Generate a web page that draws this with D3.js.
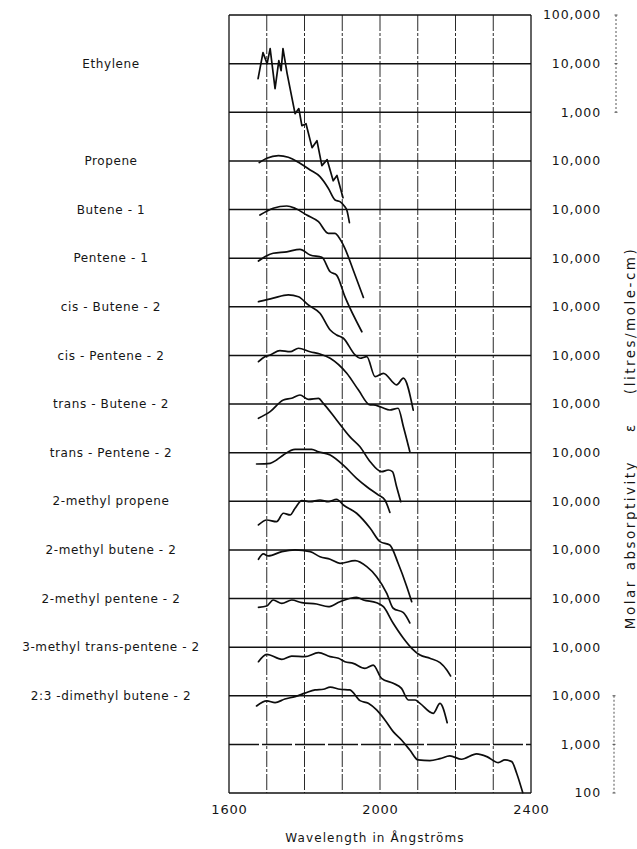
<!DOCTYPE html>
<html>
<head>
<meta charset="utf-8">
<script src="https://cdn.jsdelivr.net/npm/d3@7"></script>
<style>
  html, body { margin: 0; padding: 0; background: #fff; }
  svg { display: block; }
  text { font-family: "DejaVu Sans", sans-serif; fill: #151515; }
</style>
</head>
<body>
<svg id="chart" width="637" height="849"></svg>
<script>
// Compound names, top to bottom
const names = [
  "Ethylene", "Propene", "Butene - 1", "Pentene - 1",
  "cis - Butene - 2", "cis - Pentene - 2", "trans - Butene - 2", "trans - Pentene - 2",
  "2-methyl propene", "2-methyl butene - 2", "2-methyl pentene - 2",
  "3-methyl trans-pentene - 2", "2:3 -dimethyl butene - 2"
];

// Wavelength axis (Ångströms)
const wavelengthTicks = [1600, 2000, 2400];
const gridWavelengths = [1600, 1700, 1800, 1900, 2000, 2100, 2200, 2300, 2400];

// Absorptivity labels for each horizontal rule, top to bottom
const scaleLabels = [
  "100,000", "10,000", "1,000",
  "10,000", "10,000", "10,000", "10,000", "10,000", "10,000",
  "10,000", "10,000", "10,000", "10,000", "10,000", "10,000",
  "1,000", "100"
];

// Spectra: [wavelength Å, molar absorptivity ε]
const ethylene = [
  [1677, 4900], [1690, 16800], [1701, 10000], [1709, 20400], [1722, 3060],
  [1732, 11500], [1738, 7180], [1743, 20400], [1754, 6230], [1775, 935],
  [1785, 1190], [1793, 530], [1804, 582], [1820, 187], [1833, 260],
  [1846, 80], [1860, 106], [1876, 39], [1886, 50], [1902, 17.5]
];
const propene = [
  [1680, 9190], [1700, 11300], [1731, 12800], [1757, 11900], [1788, 8930],
  [1815, 6500], [1841, 4730], [1863, 2740], [1881, 1570], [1894, 1450],
  [1907, 1140], [1912, 977], [1919, 536]
];
const butene1 = [
  [1682, 7710], [1717, 10600], [1753, 11800], [1775, 10600], [1806, 7710],
  [1837, 5610], [1863, 3240], [1881, 3240], [1890, 2760], [1907, 1590],
  [1929, 570], [1956, 156]
];
const pentene1 = [
  [1678, 8710], [1695, 10700], [1717, 12600], [1753, 13500], [1788, 15200],
  [1815, 11600], [1846, 10400], [1868, 5250], [1885, 4490], [1907, 1610],
  [1952, 306]
];
const cisButene2 = [
  [1678, 12700], [1717, 15000], [1757, 17500], [1784, 16100], [1810, 10900],
  [1841, 7350], [1868, 3330], [1885, 2630], [1903, 2250], [1934, 1020],
  [1947, 873], [1965, 942], [1987, 365], [2009, 428], [2044, 247],
  [2062, 339], [2088, 75]
];
const cisPentene2 = [
  [1678, 7420], [1695, 9400], [1709, 10200], [1735, 12500], [1762, 11900],
  [1784, 14000], [1815, 11900], [1841, 10700], [1868, 8710], [1912, 4280],
  [1943, 1940], [1974, 955], [1982, 955], [2004, 857], [2026, 753],
  [2048, 817], [2062, 342], [2079, 105]
];
const transButene2 = [
  [1678, 5080], [1709, 6950], [1744, 12100], [1766, 13100], [1788, 15300],
  [1810, 12500], [1837, 13100], [1850, 10300], [1885, 4690], [1920, 2130],
  [1947, 1320], [1974, 650], [2004, 406], [2022, 439], [2033, 406],
  [2044, 199], [2055, 98]
];
const transPentene2 = [
  [1673, 5830], [1709, 6030], [1726, 7050], [1744, 8930], [1775, 11700],
  [1819, 11700], [1837, 10400], [1868, 8930], [1907, 5130], [1938, 2960],
  [1965, 1990], [1996, 1340], [2013, 1060], [2026, 592]
];
const methylPropene = [
  [1678, 3260], [1700, 4120], [1726, 3800], [1744, 5660], [1762, 5230],
  [1775, 7180], [1793, 10300], [1815, 9800], [1841, 10600], [1863, 9800],
  [1885, 11000], [1903, 8390], [1938, 5660], [1974, 2790], [2000, 1480],
  [2026, 1260], [2048, 531], [2071, 175], [2084, 86]
];
const methylButene2 = [
  [1678, 6410], [1691, 8240], [1704, 7500], [1740, 9190], [1775, 10000],
  [1815, 9190], [1841, 7240], [1868, 6410], [1894, 5300], [1934, 5990],
  [1965, 4510], [1991, 2810], [2018, 1280], [2035, 630], [2062, 511],
  [2079, 314]
];
const methylPentene2 = [
  [1678, 6590], [1700, 7010], [1717, 9310], [1740, 7960], [1766, 9310],
  [1793, 8200], [1832, 7710], [1863, 6780], [1894, 8590], [1938, 10600],
  [1956, 9310], [1991, 8200], [2009, 6780], [2035, 3090], [2062, 1520],
  [2084, 946], [2106, 689], [2132, 589], [2159, 478], [2177, 339],
  [2187, 255]
];
const methylTransPentene2 = [
  [1678, 5010], [1700, 7110], [1740, 5610], [1766, 6560], [1801, 6360],
  [1837, 7680], [1868, 6360], [1890, 5890], [1907, 5010], [1929, 4640],
  [1960, 3660], [1982, 4280], [2004, 2280], [2035, 1800], [2057, 1420],
  [2075, 817], [2093, 817], [2106, 698], [2141, 435], [2159, 698],
  [2178, 279]
];
const dimethylButene2 = [
  [1673, 6170], [1700, 7820], [1722, 7210], [1748, 8590], [1775, 9590],
  [1801, 11300], [1828, 13200], [1850, 13600], [1868, 15000], [1894, 13600],
  [1920, 13200], [1947, 7930], [1969, 7010], [1991, 5100], [2013, 3180],
  [2035, 1830], [2057, 1230], [2079, 767], [2101, 478], [2132, 463],
  [2159, 508], [2185, 578], [2216, 494], [2256, 635], [2283, 560],
  [2313, 421], [2331, 478], [2349, 442], [2362, 255], [2378, 102]
];

const spectra = [
  ethylene, propene, butene1, pentene1, cisButene2, cisPentene2,
  transButene2, transPentene2, methylPropene, methylButene2,
  methylPentene2, methylTransPentene2, dimethylButene2
];

// ---- layout ----
const svg = d3.select("#chart");
const plotLeft = 229, plotRight = 531, plotTop = 15, plotBottom = 793;
const nRows = scaleLabels.length - 1;

const x = d3.scaleLinear().domain([1600, 2400]).range([plotLeft, plotRight]);
const row = d3.scaleLinear().domain([0, nRows]).range([plotTop, plotBottom]);

// Ethylene's 10,000 rule is row 1; every other compound owns the next rule down
const refRow = names.map((_, i) => i === 0 ? 1 : i + 2);

// one decade per row, 10,000 on the compound's own rule
const yFor = r => d3.scaleLog().domain([1e4, 1e3]).range([row(r), row(r + 1)]);

// vertical grid (dashed)
svg.append("g")
  .selectAll("line")
  .data(gridWavelengths.slice(1, -1))
  .join("line")
  .attr("x1", d => x(d)).attr("x2", d => x(d))
  .attr("y1", plotTop).attr("y2", plotBottom)
  .attr("stroke", "#2a2a2a")
  .attr("stroke-width", 1)
  .attr("stroke-dasharray", "16,2,3,2");

// horizontal rules
svg.append("g")
  .selectAll("line")
  .data(d3.range(0, nRows + 1))
  .join("line")
  .attr("x1", plotLeft).attr("x2", plotRight)
  .attr("y1", d => row(d)).attr("y2", d => row(d))
  .attr("stroke", "#111")
  .attr("stroke-width", d => (d === 0 || d === nRows) ? 1.3 : 1.5)
  .attr("stroke-dasharray", d => d === nRows - 1 ? "30,3" : null);

// frame sides
svg.append("g")
  .selectAll("line")
  .data([1600, 2400])
  .join("line")
  .attr("x1", d => x(d)).attr("x2", d => x(d))
  .attr("y1", plotTop).attr("y2", plotBottom)
  .attr("stroke", "#111")
  .attr("stroke-width", 1.3);

// spectra
const gCurves = svg.append("g")
  .attr("fill", "none")
  .attr("stroke", "#0d0d0d")
  .attr("stroke-width", 1.7)
  .attr("stroke-linejoin", "round")
  .attr("stroke-linecap", "round");

spectra.forEach((data, i) => {
  const y = yFor(refRow[i]);
  const line = d3.line()
    .x(d => x(d[0]))
    .y(d => y(d[1]))
    .curve(i === 0 ? d3.curveLinear : d3.curveMonotoneX);
  gCurves.append("path").attr("d", line(data));
});

// compound labels
svg.append("g")
  .selectAll("text")
  .data(names)
  .join("text")
  .attr("x", 111)
  .attr("y", (d, i) => row(refRow[i]))
  .attr("dy", "0.35em")
  .attr("text-anchor", "middle")
  .attr("font-size", 12)
  .attr("letter-spacing", 0.6)
  .text(d => d);

// absorptivity labels on the right
svg.append("g")
  .selectAll("text")
  .data(scaleLabels)
  .join("text")
  .attr("x", 601)
  .attr("y", (d, i) => row(i))
  .attr("dy", "0.35em")
  .attr("text-anchor", "end")
  .attr("font-size", 12.5)
  .attr("letter-spacing", 0.9)
  .text(d => d);

// dotted brackets marking the three-decade scales
const brackets = [[0, 2, 616], [nRows - 2, nRows, 614]];
const gBr = svg.append("g").attr("stroke", "#555").attr("stroke-width", 1);
brackets.forEach(([a, b, bx]) => {
  gBr.append("line")
    .attr("x1", bx).attr("x2", bx)
    .attr("y1", row(a)).attr("y2", row(b))
    .attr("stroke-dasharray", "2,2");
  [a, (a + b) / 2, b].forEach(r => {
    gBr.append("line")
      .attr("x1", bx - 1.5).attr("x2", bx + 1.5)
      .attr("y1", row(r)).attr("y2", row(r));
  });
});

// wavelength axis
const xAxis = d3.axisBottom(x)
  .tickValues(wavelengthTicks)
  .tickFormat(d3.format("d"))
  .tickSize(0)
  .tickPadding(12);
const gx = svg.append("g").attr("transform", `translate(0,${plotBottom})`).call(xAxis);
gx.select(".domain").remove();
gx.selectAll("text")
  .attr("font-family", "DejaVu Sans, sans-serif")
  .attr("font-size", 13)
  .attr("letter-spacing", 0.8)
  .attr("fill", "#151515");

svg.append("text")
  .attr("x", 375).attr("y", 842)
  .attr("text-anchor", "middle")
  .attr("font-size", 12)
  .attr("letter-spacing", 1.1)
  .text("Wavelength in Ångströms");

// vertical absorptivity title
const title = svg.append("text")
  .attr("transform", "translate(630,438) rotate(-90)")
  .attr("text-anchor", "middle")
  .attr("dy", "0.35em")
  .attr("font-size", 13.5)
  .attr("letter-spacing", 2.5);
title.append("tspan").text("Molar");
title.append("tspan").attr("dx", 9).text("absorptivity");
title.append("tspan").attr("dx", 28).text("ε");
title.append("tspan").attr("dx", 28).text("(litres/mole-cm)");
</script>
</body>
</html>
